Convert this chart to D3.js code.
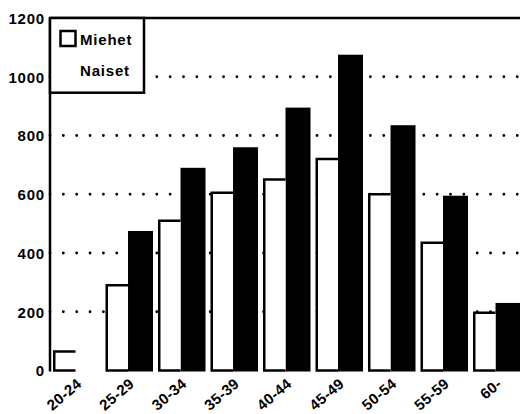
<!DOCTYPE html>
<html>
<head>
<meta charset="utf-8">
<script src="https://cdn.jsdelivr.net/npm/d3@7"></script>
<style>
  html, body { margin: 0; padding: 0; background: #fff; }
  svg { display: block; }
  text { font-family: "Liberation Sans", Arial, Helvetica, sans-serif; font-weight: bold; font-size: 15px; letter-spacing: 0.8px; fill: #000; }
  text.xlab { letter-spacing: 0.3px; }
</style>
</head>
<body>
<svg id="chart" width="520" height="414"></svg>
<script>
const categories = ["20-24","25-29","30-34","35-39","40-44","45-49","50-54","55-59","60-"];
const miehet = [65, 290, 510, 605, 650, 720, 600, 435, 197];
const naiset = [0, 475, 690, 760, 895, 1075, 835, 595, 230];
const yTicks = [0, 200, 400, 600, 800, 1000, 1200];
const gridValues = [200, 400, 600, 800, 1000];
const legendLabels = ["Miehet", "Naiset"];

const svg = d3.select("#chart");
const mLeft = 50, mRight = 520, mTop = 18, mBottom = 370.5;

const y = d3.scaleLinear().domain([0, 1200]).range([mBottom, mTop]);
const x = d3.scaleBand().domain(categories).range([50, 523.5]).paddingInner(0.095).paddingOuter(0.057);
const bw = x.bandwidth();
const whiteW = bw * 0.474;

// dotted gridlines
svg.append("g").selectAll("line").data(gridValues).join("line")
  .attr("x1", mLeft).attr("x2", mRight)
  .attr("y1", d => y(d)).attr("y2", d => y(d))
  .attr("stroke", "#000").attr("stroke-width", 2.8)
  .attr("stroke-linecap", "round").attr("stroke-dasharray", "0 13.35");

const groups = svg.append("g").selectAll("g").data(categories).join("g");

// Naiset (black)
groups.append("rect")
  .attr("x", d => x(d) + whiteW)
  .attr("width", bw - whiteW)
  .attr("y", (d, i) => y(naiset[i]))
  .attr("height", (d, i) => naiset[i] > 0 ? mBottom - y(naiset[i]) + 1 : 0)
  .attr("fill", "#000");

// Miehet (white, outlined)
groups.append("path")
  .attr("d", (d, i) => {
    const x0 = x(d) + 1.25, x1 = x(d) + whiteW, yt = y(miehet[i]);
    return `M${x1},${mBottom} H${x0} V${yt} H${x1}`;
  })
  .attr("fill", "#fff").attr("stroke", "#000").attr("stroke-width", 2.5);

// y axis line and top border
svg.append("line").attr("x1", mLeft).attr("x2", mLeft).attr("y1", mTop).attr("y2", mBottom + 1)
  .attr("stroke", "#000").attr("stroke-width", 2.5);
svg.append("line").attr("x1", mLeft).attr("x2", mRight).attr("y1", mTop).attr("y2", mTop)
  .attr("stroke", "#000").attr("stroke-width", 2.5);

// y axis labels
const yAxis = svg.append("g").attr("transform", `translate(${mLeft},0)`)
  .call(d3.axisLeft(y).tickValues(yTicks).tickFormat(d3.format("d")).tickSize(0).tickPadding(5));
yAxis.select(".domain").remove();
yAxis.attr("font-size", null).attr("font-family", null);
yAxis.selectAll("text").attr("dy", "0.36em");

// x axis: ticks positioned by the band scale; labels rotated inside nested groups
const xAxis = svg.append("g").attr("transform", "translate(0,385.5)")
  .call(d3.axisBottom(x).tickSize(0).tickFormat(""));
xAxis.select(".domain").remove();
xAxis.selectAll(".tick text").remove();
xAxis.attr("font-size", null).attr("font-family", null);
xAxis.selectAll(".tick").append("g")
  .attr("transform", "translate(6,0) rotate(-40)")
  .append("text")
  .attr("class", "xlab")
  .attr("text-anchor", "end")
  .text(d => d);

// legend
const lg = svg.append("g");
lg.append("rect").attr("x", mLeft).attr("y", mTop).attr("width", 94).attr("height", 74.7)
  .attr("fill", "#fff").attr("stroke", "#000").attr("stroke-width", 2.5);
lg.append("rect").attr("x", 60.5).attr("y", 31).attr("width", 15).attr("height", 15)
  .attr("fill", "#fff").attr("stroke", "#000").attr("stroke-width", 2.5);
lg.selectAll("text.lab").data(legendLabels).join("text").attr("class", "lab")
  .attr("x", 80).attr("y", (d, i) => i === 0 ? 44.5 : 76)
  .text(d => d);
</script>
</body>
</html>
